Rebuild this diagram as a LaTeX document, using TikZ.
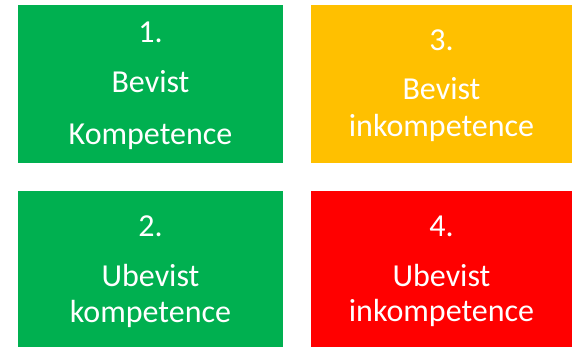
\documentclass[tikz,border=0pt]{standalone}
\usepackage{fontspec}
\setmainfont{Carlito}
\usetikzlibrary{positioning}

\definecolor{kgreen}{HTML}{00B050}
\definecolor{kyellow}{HTML}{FFC000}
\definecolor{kred}{HTML}{FF0000}

\tikzset{
  field/.style={rectangle, fill=#1, draw=none, anchor=south west, inner sep=0pt},
  word/.style={anchor=base, inner sep=0pt, text=white,
    font=\fontsize{32}{38}\selectfont}
}

\begin{document}
\begin{tikzpicture}[x=1pt, y=1pt]
  \useasboundingbox (0,0) rectangle (572,347);
  % the four fields
  \node[field=kgreen, minimum width=265pt, minimum height=158pt] (f1) at (18,184) {};
  \node[field=kyellow, minimum width=261pt, minimum height=158pt] (f3) at (311,184) {};
  \node[field=kgreen, minimum width=265pt, minimum height=156pt] (f2) at (18,0) {};
  \node[field=kred, minimum width=261pt, minimum height=156pt] (f4) at (311,0) {};
  % labels
  \node[word] (n1) at (150.5,304) {1.};
  \node[word] (t1a) at (150.5,254) {Bevist};
  \node[word] (t1b) at (150.5,202) {Kompetence};
  \node[word] (n3) at (441.5,296) {3.};
  \node[word] (t3a) at (441.5,247) {Bevist};
  \node[word] (t3b) at (441.5,210) {inkompetence};
  \node[word] (n2) at (150.5,110) {2.};
  \node[word] (t2a) at (150.5,60) {Ubevist};
  \node[word] (t2b) at (150.5,24) {kompetence};
  \node[word] (n4) at (441.5,110) {4.};
  \node[word] (t4a) at (441.5,60) {Ubevist};
  \node[word] (t4b) at (441.5,25) {inkompetence};
\end{tikzpicture}
\end{document}
